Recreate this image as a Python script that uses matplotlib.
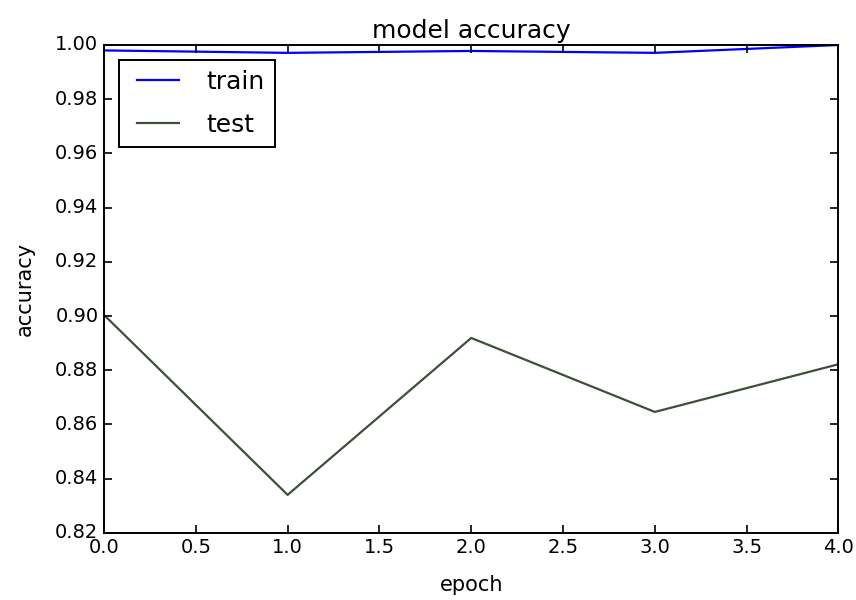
import matplotlib
matplotlib.use("Agg")
import matplotlib.pyplot as plt
import numpy as np

# Accuracy per epoch
epochs = [0, 1, 2, 3, 4]
train_acc = [0.9980, 0.9971, 0.9978, 0.9971, 1.0000]
test_acc = [0.9004, 0.8340, 0.8919, 0.8646, 0.8822]

plt.style.use("classic")

fig = plt.figure(figsize=(8.56, 6.0), dpi=100)
ax = fig.add_axes([0.1215, 0.112, 0.858, 0.813])

ax.plot(epochs, train_acc, color="blue", linewidth=1.6, label="train")
ax.plot(epochs, test_acc, color="#3f4f3a", linewidth=1.6, label="test")

ax.set_xlim(0, 4)
ax.set_ylim(0.82, 1.00)
ax.set_yticks(np.arange(0.82, 1.001, 0.02))
ax.set_title("model accuracy", fontsize=18)
ax.set_xlabel("epoch", fontsize=15, labelpad=13)
ax.set_ylabel("accuracy", fontsize=15, labelpad=15)
ax.tick_params(labelsize=14, width=1.2, length=6)
for spine in ax.spines.values():
    spine.set_linewidth(1.4)
leg = ax.legend(loc="upper left", fontsize=18, handlelength=2.3,
                borderaxespad=0.6, labelspacing=0.75)
leg.get_frame().set_linewidth(1.4)

fig.savefig("out.png", dpi=100, facecolor="white")
